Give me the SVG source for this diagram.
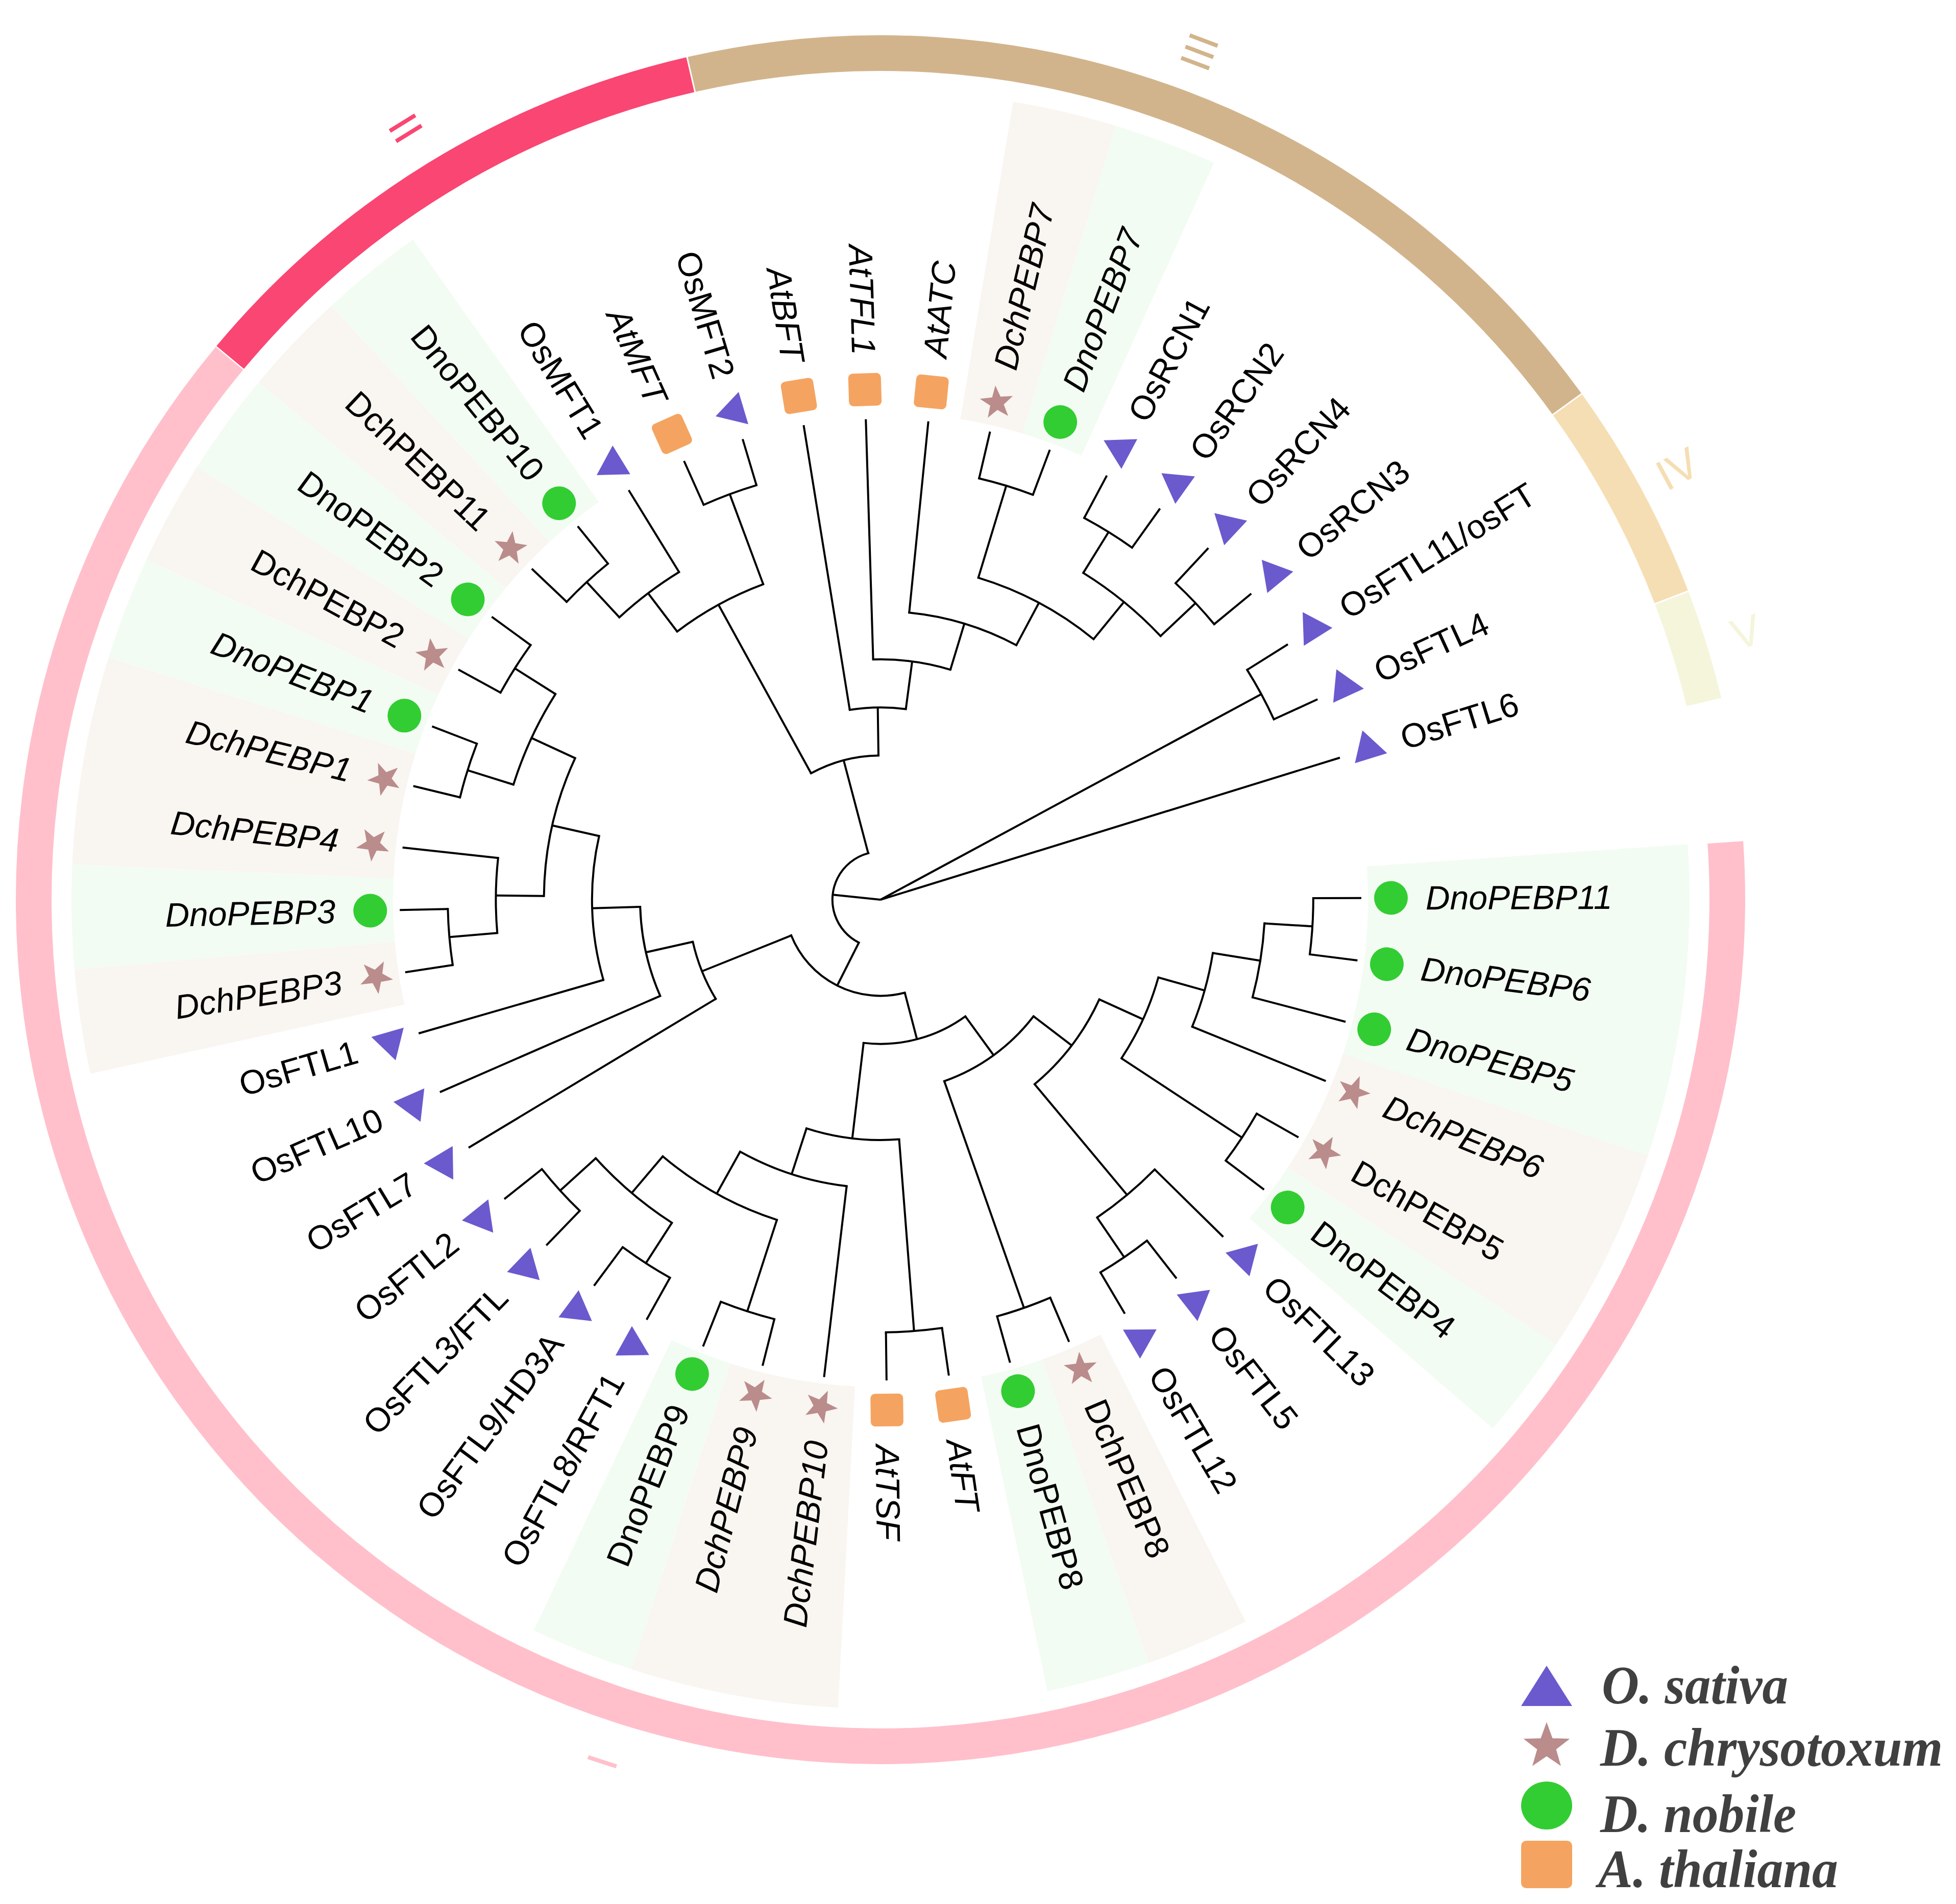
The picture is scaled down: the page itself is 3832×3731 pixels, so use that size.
<svg xmlns="http://www.w3.org/2000/svg" xmlns:xlink="http://www.w3.org/1999/xlink" width="3832" height="3731" viewBox="0 0 3832 3731">
<style>
.tree{fill:none;stroke:#000;stroke-width:4}
.tree circle{stroke-linecap:square}
.lbl{font-family:"Liberation Sans",Arial,sans-serif;font-size:66px;fill:#000;dominant-baseline:central}
.it{font-style:italic}
.l{text-anchor:end}
.os{fill:#6A5ACD}.dch{fill:#BA8C8C}.dno{fill:#32CD32}.at{fill:#F4A460}
.sec{fill:none;stroke-width:630}
.g{stroke:#F3FCF3}.b{stroke:#F9F5F0}
.ring{fill:none;stroke-width:70}
.num{font-family:"Liberation Sans",Arial,sans-serif;font-size:85px;text-anchor:middle;dominant-baseline:central}
.leg{font-family:"Liberation Serif","Times New Roman",serif;font-weight:bold;font-style:italic;font-size:106px;fill:#404040}
</style>
<defs>
<path id="tri" d="M0-38L33 19H-33Z"/>
<polygon id="star" points="0,-34 8.23,-11.33 32.34,-10.51 13.31,4.33 19.98,27.51 0,14 -19.98,27.51 -13.31,4.33 -32.34,-10.51 -8.23,-11.33"/>
<rect id="sq" x="-32" y="-32" width="64" height="64" rx="9"/>
<path id="t9" d="M847.8 0H942"/>
</defs>
<rect width="3832" height="3731" fill="#fff"/>
<g transform="translate(1725 1763)">
<g id="backgrounds">
<circle class="sec g" r="1270" stroke-dasharray="495.9 9000" transform="rotate(-3.93)"/>
<circle class="sec g" r="1270" stroke-dasharray="165.3 9000" transform="rotate(33.36)"/>
<circle class="sec g" r="1270" stroke-dasharray="165.3 9000" transform="rotate(70.64)"/>
<circle class="sec g" r="1270" stroke-dasharray="165.3 9000" transform="rotate(107.93)"/>
<circle class="sec g" r="1270" stroke-dasharray="165.3 9000" transform="rotate(175.04)"/>
<circle class="sec g" r="1270" stroke-dasharray="165.3 9000" transform="rotate(197.41)"/>
<circle class="sec g" r="1270" stroke-dasharray="165.3 9000" transform="rotate(212.32)"/>
<circle class="sec g" r="1270" stroke-dasharray="165.3 9000" transform="rotate(227.24)"/>
<circle class="sec g" r="1270" stroke-dasharray="165.3 9000" transform="rotate(286.89)"/>
<circle class="sec b" r="1270" stroke-dasharray="330.6 9000" transform="rotate(18.44)"/>
<circle class="sec b" r="1270" stroke-dasharray="165.3 9000" transform="rotate(63.18)"/>
<circle class="sec b" r="1270" stroke-dasharray="330.6 9000" transform="rotate(93.01)"/>
<circle class="sec b" r="1270" stroke-dasharray="165.3 9000" transform="rotate(167.58)"/>
<circle class="sec b" r="1270" stroke-dasharray="330.6 9000" transform="rotate(182.5)"/>
<circle class="sec b" r="1270" stroke-dasharray="165.3 9000" transform="rotate(204.87)"/>
<circle class="sec b" r="1270" stroke-dasharray="165.3 9000" transform="rotate(219.78)"/>
<circle class="sec b" r="1270" stroke-dasharray="165.3 9000" transform="rotate(279.44)"/>
</g>
<g id="clade-ring">
<circle class="ring" r="1659" stroke="#FFC0CB" stroke-dasharray="6474.6 99999" transform="rotate(-3.88)"/>
<circle class="ring" r="1659" stroke="#FA4672" stroke-dasharray="1076.8 99999" transform="rotate(219.83)"/>
<circle class="ring" r="1659" stroke="#D2B48C" stroke-dasharray="1940.3 99999" transform="rotate(257.12)"/>
<circle class="ring" r="1659" stroke="#F5DEB3" stroke-dasharray="428.8 99999" transform="rotate(324.23)"/>
<circle class="ring" r="1659" stroke="#F5F5DC" stroke-dasharray="213.1 99999" transform="rotate(339.14)"/>
</g>
<g id="clade-labels">
<text class="num" fill="#FFC0CB" transform="rotate(107.9) translate(1775 0) rotate(180)">I</text>
<text class="num" fill="#FA4672" transform="rotate(238.4) translate(1775 0) rotate(180)">II</text>
<text class="num" fill="#D2B48C" transform="rotate(290.6) translate(1775 0)">III</text>
<text class="num" fill="#F5DEB3" transform="rotate(331.6) translate(1775 0)">IV</text>
<text class="num" fill="#F5F5DC" transform="rotate(342.8) translate(1775 0)">V</text>
</g>
<g id="connectors" class="tree">
<path d="M0 0H94.2" transform="rotate(185.975)"/>
<path d="M0 0H847.8" transform="rotate(331.635)"/>
<path d="M0 0H942" transform="rotate(342.82)"/>
<path d="M94.2 0H188.4" transform="rotate(116.75)"/>
<path d="M94.2 0H282.6" transform="rotate(255.2)"/>
<path d="M188.4 0H282.6" transform="rotate(75.36)"/>
<path d="M188.4 0H376.8" transform="rotate(158.145)"/>
<path d="M282.6 0H659.4" transform="rotate(241.22)"/>
<path d="M282.6 0H376.8" transform="rotate(269.185)"/>
<path d="M282.6 0H376.8" transform="rotate(53.98)"/>
<path d="M282.6 0H471" transform="rotate(96.74)"/>
<path d="M376.8 0H942" transform="rotate(148.94)"/>
<path d="M376.8 0H471" transform="rotate(167.35)"/>
<path d="M376.8 0H942" transform="rotate(260.8)"/>
<path d="M376.8 0H471" transform="rotate(277.57)"/>
<path d="M376.8 0H471" transform="rotate(37.32)"/>
<path d="M376.8 0H847.8" transform="rotate(70.64)"/>
<path d="M471 0H942" transform="rotate(156.4)"/>
<path d="M471 0H565.2" transform="rotate(178.3)"/>
<path d="M471 0H942" transform="rotate(268.25)"/>
<path d="M471 0H565.2" transform="rotate(286.895)"/>
<path d="M471 0H847.8" transform="rotate(85.555)"/>
<path d="M471 0H565.2" transform="rotate(107.93)"/>
<path d="M471 0H565.2" transform="rotate(24.5)"/>
<path d="M471 0H753.6" transform="rotate(50.135)"/>
<path d="M565.2 0H942" transform="rotate(163.85)"/>
<path d="M565.2 0H659.4" transform="rotate(192.75)"/>
<path d="M565.2 0H942" transform="rotate(275.71)"/>
<path d="M565.2 0H659.4" transform="rotate(298.08)"/>
<path d="M565.2 0H942" transform="rotate(96.74)"/>
<path d="M565.2 0H659.4" transform="rotate(119.115)"/>
<path d="M565.2 0H659.4" transform="rotate(15.645)"/>
<path d="M565.2 0H847.8" transform="rotate(33.36)"/>
<path d="M659.4 0H753.6" transform="rotate(180.635)"/>
<path d="M659.4 0H753.6" transform="rotate(204.87)"/>
<path d="M659.4 0H847.8" transform="rotate(286.895)"/>
<path d="M659.4 0H753.6" transform="rotate(309.265)"/>
<path d="M659.4 0H753.6" transform="rotate(232.83)"/>
<path d="M659.4 0H847.8" transform="rotate(249.61)"/>
<path d="M659.4 0H847.8" transform="rotate(107.93)"/>
<path d="M659.4 0H753.6" transform="rotate(130.3)"/>
<path d="M659.4 0H753.6" transform="rotate(9.12)"/>
<path d="M659.4 0H942" transform="rotate(22.17)"/>
<path d="M753.6 0H847.8" transform="rotate(175.04)"/>
<path d="M753.6 0H942" transform="rotate(186.23)"/>
<path d="M753.6 0H847.8" transform="rotate(197.41)"/>
<path d="M753.6 0H847.8" transform="rotate(212.325)"/>
<path d="M753.6 0H847.8" transform="rotate(301.81)"/>
<path d="M753.6 0H847.8" transform="rotate(316.72)"/>
<path d="M753.6 0H847.8" transform="rotate(227.24)"/>
<path d="M753.6 0H942" transform="rotate(238.42)"/>
<path d="M753.6 0H847.8" transform="rotate(122.84)"/>
<path d="M753.6 0H847.8" transform="rotate(137.755)"/>
<path d="M753.6 0H942" transform="rotate(44.54)"/>
<path d="M753.6 0H847.8" transform="rotate(55.73)"/>
<path d="M753.6 0H847.8" transform="rotate(3.53)"/>
<path d="M753.6 0H942" transform="rotate(14.71)"/>
<use href="#t9" transform="rotate(-0.2)"/>
<use href="#t9" transform="rotate(7.26)"/>
<use href="#t9" transform="rotate(29.63)"/>
<use href="#t9" transform="rotate(37.09)"/>
<use href="#t9" transform="rotate(52)"/>
<use href="#t9" transform="rotate(59.46)"/>
<use href="#t9" transform="rotate(66.91)"/>
<use href="#t9" transform="rotate(74.37)"/>
<use href="#t9" transform="rotate(81.83)"/>
<use href="#t9" transform="rotate(89.28)"/>
<use href="#t9" transform="rotate(104.2)"/>
<use href="#t9" transform="rotate(111.66)"/>
<use href="#t9" transform="rotate(119.11)"/>
<use href="#t9" transform="rotate(126.57)"/>
<use href="#t9" transform="rotate(134.03)"/>
<use href="#t9" transform="rotate(141.48)"/>
<use href="#t9" transform="rotate(171.31)"/>
<use href="#t9" transform="rotate(178.77)"/>
<use href="#t9" transform="rotate(193.68)"/>
<use href="#t9" transform="rotate(201.14)"/>
<use href="#t9" transform="rotate(208.6)"/>
<use href="#t9" transform="rotate(216.05)"/>
<use href="#t9" transform="rotate(223.51)"/>
<use href="#t9" transform="rotate(230.97)"/>
<use href="#t9" transform="rotate(245.88)"/>
<use href="#t9" transform="rotate(253.34)"/>
<use href="#t9" transform="rotate(283.17)"/>
<use href="#t9" transform="rotate(290.62)"/>
<use href="#t9" transform="rotate(298.08)"/>
<use href="#t9" transform="rotate(305.54)"/>
<use href="#t9" transform="rotate(312.99)"/>
<use href="#t9" transform="rotate(320.45)"/>
<use href="#t9" transform="rotate(327.91)"/>
<use href="#t9" transform="rotate(335.36)"/>
<circle r="94.2" stroke-dasharray="227.63 9999" transform="rotate(116.75)"/>
<circle r="188.4" stroke-dasharray="272.22 9999" transform="rotate(75.36)"/>
<circle r="282.6" stroke-dasharray="137.93 9999" transform="rotate(241.22)"/>
<circle r="282.6" stroke-dasharray="210.9 9999" transform="rotate(53.98)"/>
<circle r="376.8" stroke-dasharray="121.07 9999" transform="rotate(148.94)"/>
<circle r="376.8" stroke-dasharray="110.29 9999" transform="rotate(260.8)"/>
<circle r="376.8" stroke-dasharray="219.13 9999" transform="rotate(37.32)"/>
<circle r="471" stroke-dasharray="180.03 9999" transform="rotate(156.4)"/>
<circle r="471" stroke-dasharray="153.27 9999" transform="rotate(268.25)"/>
<circle r="471" stroke-dasharray="183.93 9999" transform="rotate(85.555)"/>
<circle r="471" stroke-dasharray="210.73 9999" transform="rotate(24.5)"/>
<circle r="565.2" stroke-dasharray="285.09 9999" transform="rotate(163.85)"/>
<circle r="565.2" stroke-dasharray="220.67 9999" transform="rotate(275.71)"/>
<circle r="565.2" stroke-dasharray="220.72 9999" transform="rotate(96.74)"/>
<circle r="565.2" stroke-dasharray="174.75 9999" transform="rotate(15.645)"/>
<circle r="659.4" stroke-dasharray="278.91 9999" transform="rotate(180.635)"/>
<circle r="659.4" stroke-dasharray="257.45 9999" transform="rotate(286.895)"/>
<circle r="659.4" stroke-dasharray="193.12 9999" transform="rotate(232.83)"/>
<circle r="659.4" stroke-dasharray="257.45 9999" transform="rotate(107.93)"/>
<circle r="659.4" stroke-dasharray="150.19 9999" transform="rotate(9.12)"/>
<circle r="753.6" stroke-dasharray="147.18 9999" transform="rotate(175.04)"/>
<circle r="753.6" stroke-dasharray="196.17 9999" transform="rotate(197.41)"/>
<circle r="753.6" stroke-dasharray="196.11 9999" transform="rotate(301.81)"/>
<circle r="753.6" stroke-dasharray="147.05 9999" transform="rotate(227.24)"/>
<circle r="753.6" stroke-dasharray="196.17 9999" transform="rotate(122.84)"/>
<circle r="753.6" stroke-dasharray="147.18 9999" transform="rotate(44.54)"/>
<circle r="753.6" stroke-dasharray="147.05 9999" transform="rotate(3.53)"/>
<circle r="847.8" stroke-dasharray="110.34 9999" transform="rotate(-0.2)"/>
<circle r="847.8" stroke-dasharray="110.34 9999" transform="rotate(29.63)"/>
<circle r="847.8" stroke-dasharray="110.34 9999" transform="rotate(52)"/>
<circle r="847.8" stroke-dasharray="110.34 9999" transform="rotate(66.91)"/>
<circle r="847.8" stroke-dasharray="110.34 9999" transform="rotate(81.83)"/>
<circle r="847.8" stroke-dasharray="110.34 9999" transform="rotate(104.2)"/>
<circle r="847.8" stroke-dasharray="110.34 9999" transform="rotate(119.11)"/>
<circle r="847.8" stroke-dasharray="110.34 9999" transform="rotate(134.03)"/>
<circle r="847.8" stroke-dasharray="110.34 9999" transform="rotate(171.31)"/>
<circle r="847.8" stroke-dasharray="110.34 9999" transform="rotate(193.68)"/>
<circle r="847.8" stroke-dasharray="110.34 9999" transform="rotate(208.6)"/>
<circle r="847.8" stroke-dasharray="110.34 9999" transform="rotate(223.51)"/>
<circle r="847.8" stroke-dasharray="110.34 9999" transform="rotate(245.88)"/>
<circle r="847.8" stroke-dasharray="110.34 9999" transform="rotate(283.17)"/>
<circle r="847.8" stroke-dasharray="110.34 9999" transform="rotate(298.08)"/>
<circle r="847.8" stroke-dasharray="110.34 9999" transform="rotate(312.99)"/>
<circle r="847.8" stroke-dasharray="110.34 9999" transform="rotate(327.91)"/>
</g>
<g id="leaves">
<g id="leaf-DnoPEBP11" transform="rotate(-0.2)"><circle class="dno" cx="1000" r="33"/><text class="lbl it" x="1068">DnoPEBP11</text></g>
<g id="leaf-DnoPEBP6" transform="rotate(7.26)"><circle class="dno" cx="1000" r="33"/><text class="lbl it" x="1068">DnoPEBP6</text></g>
<g id="leaf-DnoPEBP5" transform="rotate(14.71)"><circle class="dno" cx="1000" r="33"/><text class="lbl it" x="1068">DnoPEBP5</text></g>
<g id="leaf-DchPEBP6" transform="rotate(22.17)"><use href="#star" class="dch" x="1000"/><text class="lbl it" x="1068">DchPEBP6</text></g>
<g id="leaf-DchPEBP5" transform="rotate(29.63)"><use href="#star" class="dch" x="1000"/><text class="lbl" x="1068">DchPEBP5</text></g>
<g id="leaf-DnoPEBP4" transform="rotate(37.09)"><circle class="dno" cx="1000" r="33"/><text class="lbl" x="1068">DnoPEBP4</text></g>
<g id="leaf-OsFTL13" transform="rotate(44.54)"><use href="#tri" class="os" x="1000"/><text class="lbl" x="1068">OsFTL13</text></g>
<g id="leaf-OsFTL5" transform="rotate(52)"><use href="#tri" class="os" x="1000"/><text class="lbl" x="1068">OsFTL5</text></g>
<g id="leaf-OsFTL12" transform="rotate(59.46)"><use href="#tri" class="os" x="1000"/><text class="lbl" x="1068">OsFTL12</text></g>
<g id="leaf-DchPEBP8" transform="rotate(66.91)"><use href="#star" class="dch" x="1000"/><text class="lbl" x="1068">DchPEBP8</text></g>
<g id="leaf-DnoPEBP8" transform="rotate(74.37)"><circle class="dno" cx="1000" r="33"/><text class="lbl" x="1068">DnoPEBP8</text></g>
<g id="leaf-AtFT" transform="rotate(81.83)"><use href="#sq" class="at" x="1000"/><text class="lbl it" x="1068">AtFT</text></g>
<g id="leaf-AtTSF" transform="rotate(89.28)"><use href="#sq" class="at" x="1000"/><text class="lbl it" x="1068">AtTSF</text></g>
<g id="leaf-DchPEBP10" transform="rotate(96.74)"><use href="#star" class="dch" x="1000"/><text class="lbl it l" x="1068" transform="rotate(180 1068 0)">DchPEBP10</text></g>
<g id="leaf-DchPEBP9" transform="rotate(104.2)"><use href="#star" class="dch" x="1000"/><text class="lbl it l" x="1068" transform="rotate(180 1068 0)">DchPEBP9</text></g>
<g id="leaf-DnoPEBP9" transform="rotate(111.66)"><circle class="dno" cx="1000" r="33"/><text class="lbl l" x="1068" transform="rotate(180 1068 0)">DnoPEBP9</text></g>
<g id="leaf-OsFTL8-RFT1" transform="rotate(119.11)"><use href="#tri" class="os" x="1000"/><text class="lbl l" x="1068" transform="rotate(180 1068 0)">OsFTL8/RFT1</text></g>
<g id="leaf-OsFTL9-HD3A" transform="rotate(126.57)"><use href="#tri" class="os" x="1000"/><text class="lbl l" x="1068" transform="rotate(180 1068 0)">OsFTL9/HD3A</text></g>
<g id="leaf-OsFTL3-FTL" transform="rotate(134.03)"><use href="#tri" class="os" x="1000"/><text class="lbl l" x="1068" transform="rotate(180 1068 0)">OsFTL3/FTL</text></g>
<g id="leaf-OsFTL2" transform="rotate(141.48)"><use href="#tri" class="os" x="1000"/><text class="lbl l" x="1068" transform="rotate(180 1068 0)">OsFTL2</text></g>
<g id="leaf-OsFTL7" transform="rotate(148.94)"><use href="#tri" class="os" x="1000"/><text class="lbl l" x="1068" transform="rotate(180 1068 0)">OsFTL7</text></g>
<g id="leaf-OsFTL10" transform="rotate(156.4)"><use href="#tri" class="os" x="1000"/><text class="lbl l" x="1068" transform="rotate(180 1068 0)">OsFTL10</text></g>
<g id="leaf-OsFTL1" transform="rotate(163.85)"><use href="#tri" class="os" x="1000"/><text class="lbl l" x="1068" transform="rotate(180 1068 0)">OsFTL1</text></g>
<g id="leaf-DchPEBP3" transform="rotate(171.31)"><use href="#star" class="dch" x="1000"/><text class="lbl it l" x="1068" transform="rotate(180 1068 0)">DchPEBP3</text></g>
<g id="leaf-DnoPEBP3" transform="rotate(178.77)"><circle class="dno" cx="1000" r="33"/><text class="lbl it l" x="1068" transform="rotate(180 1068 0)">DnoPEBP3</text></g>
<g id="leaf-DchPEBP4" transform="rotate(186.23)"><use href="#star" class="dch" x="1000"/><text class="lbl it l" x="1068" transform="rotate(180 1068 0)">DchPEBP4</text></g>
<g id="leaf-DchPEBP1" transform="rotate(193.68)"><use href="#star" class="dch" x="1000"/><text class="lbl it l" x="1068" transform="rotate(180 1068 0)">DchPEBP1</text></g>
<g id="leaf-DnoPEBP1" transform="rotate(201.14)"><circle class="dno" cx="1000" r="33"/><text class="lbl it l" x="1068" transform="rotate(180 1068 0)">DnoPEBP1</text></g>
<g id="leaf-DchPEBP2" transform="rotate(208.6)"><use href="#star" class="dch" x="1000"/><text class="lbl l" x="1068" transform="rotate(180 1068 0)">DchPEBP2</text></g>
<g id="leaf-DnoPEBP2" transform="rotate(216.05)"><circle class="dno" cx="1000" r="33"/><text class="lbl l" x="1068" transform="rotate(180 1068 0)">DnoPEBP2</text></g>
<g id="leaf-DchPEBP11" transform="rotate(223.51)"><use href="#star" class="dch" x="1000"/><text class="lbl l" x="1068" transform="rotate(180 1068 0)">DchPEBP11</text></g>
<g id="leaf-DnoPEBP10" transform="rotate(230.97)"><circle class="dno" cx="1000" r="33"/><text class="lbl l" x="1068" transform="rotate(180 1068 0)">DnoPEBP10</text></g>
<g id="leaf-OsMFT1" transform="rotate(238.42)"><use href="#tri" class="os" x="1000"/><text class="lbl l" x="1068" transform="rotate(180 1068 0)">OsMFT1</text></g>
<g id="leaf-AtMFT" transform="rotate(245.88)"><use href="#sq" class="at" x="1000"/><text class="lbl it l" x="1068" transform="rotate(180 1068 0)">AtMFT</text></g>
<g id="leaf-OsMFT2" transform="rotate(253.34)"><use href="#tri" class="os" x="1000"/><text class="lbl l" x="1068" transform="rotate(180 1068 0)">OsMFT2</text></g>
<g id="leaf-AtBFT" transform="rotate(260.8)"><use href="#sq" class="at" x="1000"/><text class="lbl it l" x="1068" transform="rotate(180 1068 0)">AtBFT</text></g>
<g id="leaf-AtTFL1" transform="rotate(268.25)"><use href="#sq" class="at" x="1000"/><text class="lbl it l" x="1068" transform="rotate(180 1068 0)">AtTFL1</text></g>
<g id="leaf-AtATC" transform="rotate(275.71)"><use href="#sq" class="at" x="1000"/><text class="lbl it" x="1068">AtATC</text></g>
<g id="leaf-DchPEBP7" transform="rotate(283.17)"><use href="#star" class="dch" x="1000"/><text class="lbl it" x="1068">DchPEBP7</text></g>
<g id="leaf-DnoPEBP7" transform="rotate(290.62)"><circle class="dno" cx="1000" r="33"/><text class="lbl it" x="1068">DnoPEBP7</text></g>
<g id="leaf-OsRCN1" transform="rotate(298.08)"><use href="#tri" class="os" x="1000"/><text class="lbl" x="1068">OsRCN1</text></g>
<g id="leaf-OsRCN2" transform="rotate(305.54)"><use href="#tri" class="os" x="1000"/><text class="lbl" x="1068">OsRCN2</text></g>
<g id="leaf-OsRCN4" transform="rotate(312.99)"><use href="#tri" class="os" x="1000"/><text class="lbl" x="1068">OsRCN4</text></g>
<g id="leaf-OsRCN3" transform="rotate(320.45)"><use href="#tri" class="os" x="1000"/><text class="lbl" x="1068">OsRCN3</text></g>
<g id="leaf-OsFTL11-osFT" transform="rotate(327.91)"><use href="#tri" class="os" x="1000"/><text class="lbl" x="1068">OsFTL11/osFT</text></g>
<g id="leaf-OsFTL4" transform="rotate(335.36)"><use href="#tri" class="os" x="1000"/><text class="lbl" x="1068">OsFTL4</text></g>
<g id="leaf-OsFTL6" transform="rotate(342.82)"><use href="#tri" class="os" x="1000"/><text class="lbl" x="1068">OsFTL6</text></g>
</g>
</g>
<g id="legend">
<polygon class="os" points="3030,3264 3080,3343 2980,3343"/>
<use href="#star" class="dch" transform="translate(3030 3422) scale(1.4)"/>
<ellipse class="dno" cx="3030" cy="3538" rx="50" ry="47"/>
<rect class="at" x="2980" y="3607" width="100" height="93" rx="10"/>
<text class="leg" x="3138" y="3338" textLength="365" lengthAdjust="spacingAndGlyphs">O. sativa</text>
<text class="leg" x="3135" y="3460" textLength="671" lengthAdjust="spacingAndGlyphs">D. chrysotoxum</text>
<text class="leg" x="3135" y="3590" textLength="384" lengthAdjust="spacingAndGlyphs">D. nobile</text>
<text class="leg" x="3131" y="3698" textLength="470" lengthAdjust="spacingAndGlyphs">A. thaliana</text>
</g>
</svg>
